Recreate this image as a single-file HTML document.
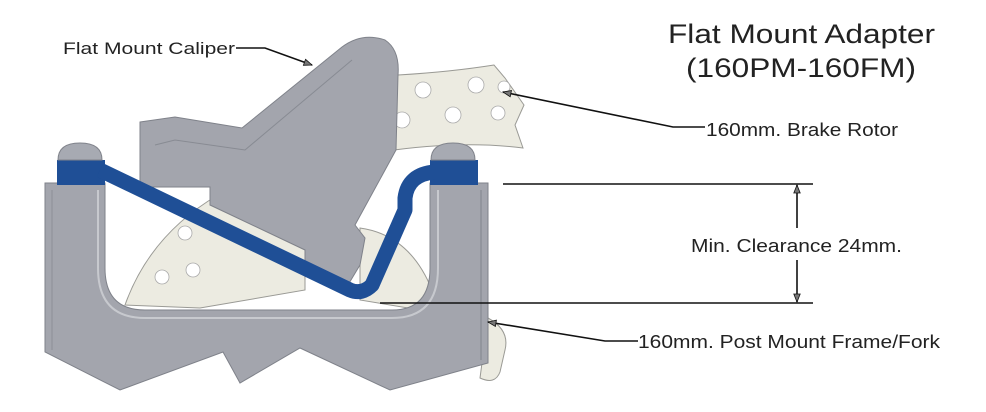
<!DOCTYPE html>
<html><head><meta charset="utf-8"><style>
html,body{margin:0;padding:0;background:#fff;}
svg{display:block;}
text{font-family:"Liberation Sans",Arial,sans-serif;fill:#222;}
</style></head><body>
<svg width="986" height="412" viewBox="0 0 986 412" xmlns="http://www.w3.org/2000/svg">
<defs>
<marker id="ar" viewBox="0 0 10 10" refX="10" refY="5" markerWidth="12" markerHeight="8" orient="auto-start-reverse" markerUnits="userSpaceOnUse">
<path d="M0,1 L10,5 L0,9 Z" fill="#777" stroke="#111" stroke-width="1"/></marker>
</defs>
<rect width="986" height="412" fill="#fff"/>
<!-- rotor pieces -->
<g fill="#ecebe1" stroke="#9a9a95" stroke-width="1">
<path d="M398,75 Q450,72 494,65 L505,78 L524,105 L515,125 L523,148 Q460,140 380,152 Z"/>
<path d="M125,305 Q150,235 218,195 L305,238 L305,290 L200,308 Z"/>
<path d="M360,228 Q410,235 432,290 L420,310 L360,300 Z"/>
<path d="M488,318 Q510,330 505,350 L500,372 Q495,385 480,378 Z"/>
</g>
<g fill="#fff" stroke="#aaa" stroke-width="0.8">
<circle cx="423" cy="90" r="8"/><circle cx="476" cy="85" r="8"/><circle cx="504" cy="87" r="6"/>
<circle cx="402" cy="120" r="8"/><circle cx="453" cy="115" r="8"/><circle cx="498" cy="113" r="7"/>
<circle cx="185" cy="233" r="7"/><circle cx="162" cy="277" r="7"/><circle cx="193" cy="270" r="7"/>
</g>
<!-- caliper -->
<path d="M140,122 L175,117 L242,128 L342,47 Q362,32 385,40 Q400,50 398,75 L396,150 L355,225 L365,238 L360,265 L345,290 L333,283 L305,262 L305,250 L210,205 L210,187 L140,187 Z" fill="#a3a5ad" stroke="#7f828a" stroke-width="1"/>
<path d="M155,145 L175,140 L245,150 L352,60" fill="none" stroke="#888b93" stroke-width="1"/>
<!-- frame -->
<path d="M45,183 L105,183 L105,268 Q105,310 145,310 L392,310 Q430,310 430,268 L430,183 L488,183 L488,363 L390,390 L300,348 L240,383 L223,352 L120,390 L45,352 Z" fill="#a3a5ad" stroke="#7f828a" stroke-width="1"/>
<path d="M98,190 L98,268 Q98,318 145,318 L392,318 Q438,318 438,268 L438,190" fill="none" stroke="#c7c9ce" stroke-width="2"/>
<line x1="481" y1="190" x2="481" y2="360" stroke="#8d9098" stroke-width="1.5"/>
<line x1="52" y1="190" x2="52" y2="350" stroke="#8d9098" stroke-width="1"/>
<!-- blue adapter -->
<rect x="57" y="160" width="48" height="25" fill="#1f4f96"/>
<rect x="430" y="160" width="48" height="25" fill="#1f4f96"/>
<path d="M100,170 L350,290 Q362,295 372,285 L405,210 L405,198 Q408,174 435,172 L440,172" fill="none" stroke="#1f4f96" stroke-width="15" stroke-linejoin="round"/>
<!-- bolt heads -->
<path d="M58,160 Q58,143 80,143 Q102,143 102,160 Z" fill="#a7aab2" stroke="#80838b"/>
<path d="M431,160 Q431,143 453,143 Q475,143 475,160 Z" fill="#a7aab2" stroke="#80838b"/>
<!-- leaders -->
<g stroke="#111" stroke-width="1.6" fill="none">
<polyline points="236,48 265,48 312,65" marker-end="url(#ar)"/>
<polyline points="705,127 673,127 503,92" marker-end="url(#ar)"/>
<polyline points="638,341 605,341 488,322" marker-end="url(#ar)"/>
<line x1="503" y1="184" x2="813" y2="184"/>
<line x1="380" y1="303" x2="813" y2="303"/>
<line x1="797" y1="228" x2="797" y2="185" marker-end="url(#ar)"/>
<line x1="797" y1="260" x2="797" y2="302" marker-end="url(#ar)"/>
</g>
<!-- texts -->
<text x="63" y="54" font-size="17" textLength="172" lengthAdjust="spacingAndGlyphs">Flat Mount Caliper</text>
<text x="668" y="43" font-size="27" textLength="267" lengthAdjust="spacingAndGlyphs">Flat Mount Adapter</text>
<text x="686" y="77" font-size="27" textLength="230" lengthAdjust="spacingAndGlyphs">(160PM-160FM)</text>
<text x="706" y="136" font-size="18" textLength="192" lengthAdjust="spacingAndGlyphs">160mm. Brake Rotor</text>
<text x="691" y="252" font-size="18" textLength="211" lengthAdjust="spacingAndGlyphs">Min. Clearance 24mm.</text>
<text x="638" y="348" font-size="18" textLength="302" lengthAdjust="spacingAndGlyphs">160mm. Post Mount Frame/Fork</text>
</svg>
</body></html>
